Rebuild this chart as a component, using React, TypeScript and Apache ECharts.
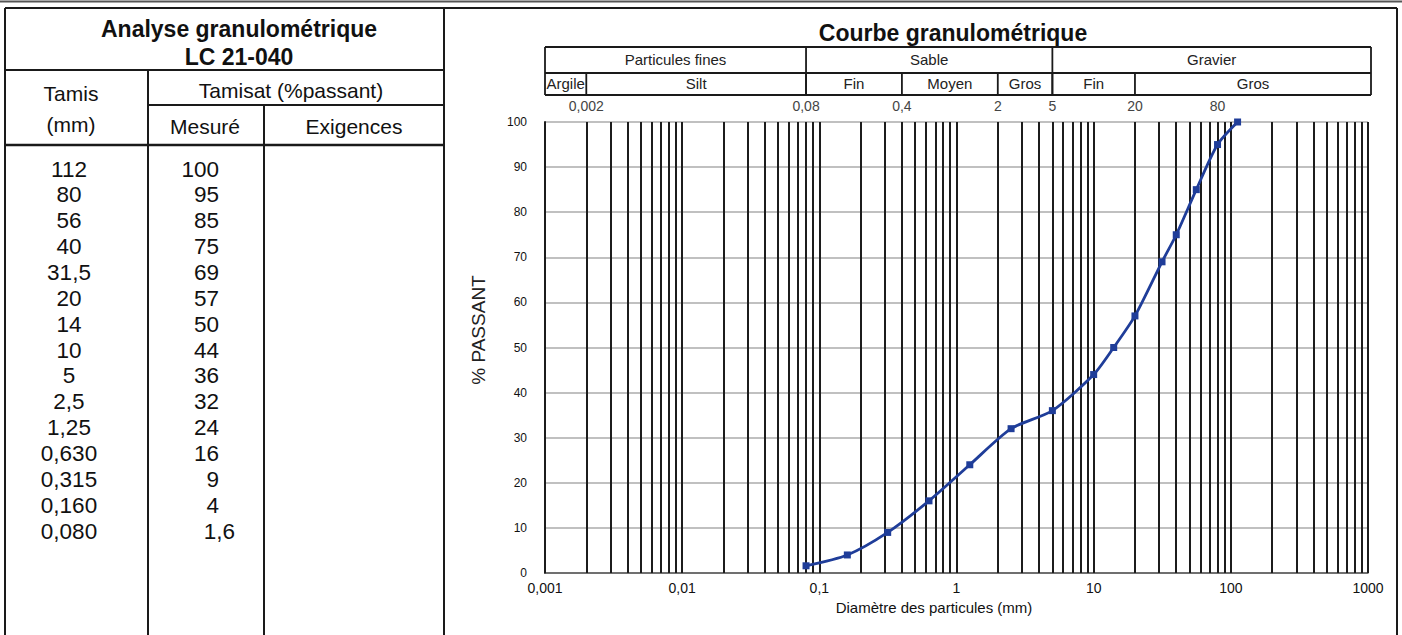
import React, { useEffect, useRef } from 'react';
import * as echarts from 'echarts';

const FONT = '"Liberation Sans", Arial, Helvetica, sans-serif';

// Sieve analysis data (table + curve)
const sieveLabels = ['112', '80', '56', '40', '31,5', '20', '14', '10', '5', '2,5', '1,25', '0,630', '0,315', '0,160', '0,080'];
const sieveSizes = [112, 80, 56, 40, 31.5, 20, 14, 10, 5, 2.5, 1.25, 0.63, 0.315, 0.16, 0.08];
const passing = [100, 95, 85, 75, 69, 57, 50, 44, 36, 32, 24, 16, 9, 4, 1.6];

// Log-paper grid construction
const decades = [0.001, 0.01, 0.1, 1, 10, 100];
const mantissas = [1, 2, 3, 4, 5, 6, 7, 8, 9];

// Classification header above the chart
const bandNames = ['Particules fines', 'Sable', 'Gravier'];
const bandBounds = [0.001, 0.08, 5, 1000];
const subNames = ['Argile', 'Silt', 'Fin', 'Moyen', 'Gros', 'Fin', 'Gros'];
const subBounds = [0.001, 0.002, 0.08, 0.4, 2, 5, 20, 1000];
const limitLabels = ['0,002', '0,08', '0,4', '2', '5', '20', '80'];
const limitValues = [0.002, 0.08, 0.4, 2, 5, 20, 80];

const fmt = (v: number) => String(v).replace('.', ',');

function ln(x1: number, y1: number, x2: number, y2: number, w = 2, color = '#1a1a1a') {
  return { type: 'line', silent: true, z: 50, shape: { x1, y1, x2, y2 }, style: { stroke: color, lineWidth: w } };
}
function tx(x: number, y: number, text: string, size: number, opts: any = {}) {
  return {
    type: 'text', silent: true, z: 50, x, y,
    style: {
      text, fontSize: size, fontFamily: FONT, fontWeight: opts.bold ? 'bold' : 'normal',
      fill: opts.color || '#111', align: opts.align || 'center', verticalAlign: 'middle',
    },
  };
}

export default function App() {
  const ref = useRef<HTMLDivElement>(null);
  useEffect(() => {
    document.body.style.margin = '0';
    const chart = echarts.init(ref.current!, null, { renderer: 'svg' });
    const gridXs: number[] = [];
    decades.forEach((d) => mantissas.forEach((m) => gridXs.push(+(m * d).toPrecision(6))));
    gridXs.push(1000);

    chart.setOption({
      animation: false,
      backgroundColor: '#ffffff',
      textStyle: { fontFamily: FONT },
      grid: { left: 545, top: 122, right: 34, bottom: 62, containLabel: false },
      xAxis: {
        type: 'log', logBase: 10, min: 0.001, max: 1000,
        axisLine: { show: true, lineStyle: { color: '#555', width: 1.5 } },
        axisTick: { show: false },
        axisLabel: { fontSize: 14, color: '#111', margin: 8, formatter: (v: number) => fmt(v) },
        splitLine: { show: false },
        name: 'Diamètre des particules (mm)', nameLocation: 'middle', nameGap: 27,
        nameTextStyle: { fontSize: 15, color: '#111', padding: [0, 45, 0, 0] },
      },
      yAxis: {
        type: 'value', min: 0, max: 100, interval: 10,
        axisLine: { show: true, lineStyle: { color: '#222', width: 2 } },
        axisTick: { show: false },
        axisLabel: { fontSize: 12, color: '#111', margin: 18 },
        splitLine: { show: true, lineStyle: { color: '#ababab', width: 1.5 } },
        name: '% PASSANT', nameLocation: 'middle', nameGap: 57, nameRotate: 90,
        nameTextStyle: { fontSize: 19, color: '#222', padding: [0, 0, 0, 35] },
      },
      series: [
        {
          type: 'line', data: [], silent: true, z: 1,
          markLine: {
            silent: true, symbol: ['none', 'none'], z: 1, animation: false, precision: 8,
            label: { show: false },
            emphasis: { disabled: true },
            lineStyle: { color: '#1c1c1c', width: 2, type: 'solid' },
            data: gridXs.map((v) => ({ xAxis: v })),
          },
        },
        {
          type: 'line', z: 10,
          data: sieveSizes.map((s, i) => [s, passing[i]]),
          symbol: 'rect', symbolSize: 7, smooth: 0.25,
          lineStyle: { color: '#1f3d99', width: 2.8 },
          itemStyle: { color: '#1f3d99' },
        },
      ],
    });

    const px = (v: number) => chart.convertToPixel({ xAxisIndex: 0 }, v) as number;
    const g: any[] = [];

    // Outer frames
    g.push(ln(0, 1.5, 1402, 1.5, 2, '#555'));
    g.push(ln(5, 8, 1397, 8, 2));
    g.push(ln(5, 8, 5, 635, 2));
    g.push(ln(444, 8, 444, 635, 2));
    g.push(ln(1397, 8, 1397, 635, 2));

    // Left table lines
    g.push(ln(5, 70, 444, 70, 2));
    g.push(ln(148, 70, 148, 635, 2));
    g.push(ln(148, 105, 444, 105, 2));
    g.push(ln(264, 105, 264, 635, 2));
    g.push(ln(5, 145, 444, 145, 2.5));

    // Left table texts
    g.push(tx(239, 29, 'Analyse granulométrique', 23, { bold: true }));
    g.push(tx(239, 57, 'LC 21-040', 23, { bold: true }));
    g.push(tx(71, 93, 'Tamis', 21));
    g.push(tx(71, 124, '(mm)', 21));
    g.push(tx(291, 90, 'Tamisat (%passant)', 21));
    g.push(tx(205, 126, 'Mesuré', 21));
    g.push(tx(354, 126, 'Exigences', 21));
    sieveLabels.forEach((s, i) => {
      const y = 169 + i * 25.86;
      g.push(tx(69, y, s, 22.5));
      const p = fmt(passing[i]);
      g.push(tx(p.includes(',') ? 235 : 219, y, p, 22.5, { align: 'right' }));
    });

    // Chart title
    g.push(tx(953, 33, 'Courbe granulométrique', 23, { bold: true }));

    // Classification header
    const xL = px(bandBounds[0]);
    const xR = px(bandBounds[bandBounds.length - 1]) + 3;
    const yT = 47, yM = 73, yB = 95;
    g.push(ln(xL, yT, xR, yT, 1.8));
    g.push(ln(xL, yM, xR, yM, 1.8));
    g.push(ln(xL, yB, xR, yB, 1.8));
    g.push(ln(xL, yT, xL, yB, 1.8));
    g.push(ln(xR, yT, xR, yB, 1.8));
    bandNames.forEach((n, i) => {
      const a = i === 0 ? xL : px(bandBounds[i]);
      const b = i === bandNames.length - 1 ? xR : px(bandBounds[i + 1]);
      if (i > 0) g.push(ln(a, yT, a, yB, 1.8));
      g.push(tx((a + b) / 2, 59, n, 15, { color: '#222' }));
    });
    subNames.forEach((n, i) => {
      const a = i === 0 ? xL : px(subBounds[i]);
      const b = i === subNames.length - 1 ? xR : px(subBounds[i + 1]);
      if (i > 0) g.push(ln(a, yM, a, yB, 1.8));
      g.push(tx((a + b) / 2, 83, n, 15, { color: '#222' }));
    });
    limitLabels.forEach((l, i) => {
      g.push(tx(px(limitValues[i]), 106, l, 14, { color: '#444' }));
    });

    chart.setOption({ graphic: g });
    return () => chart.dispose();
  }, []);
  return <div ref={ref} style={{ width: 1402, height: 635, display: 'block' }} />;
}
